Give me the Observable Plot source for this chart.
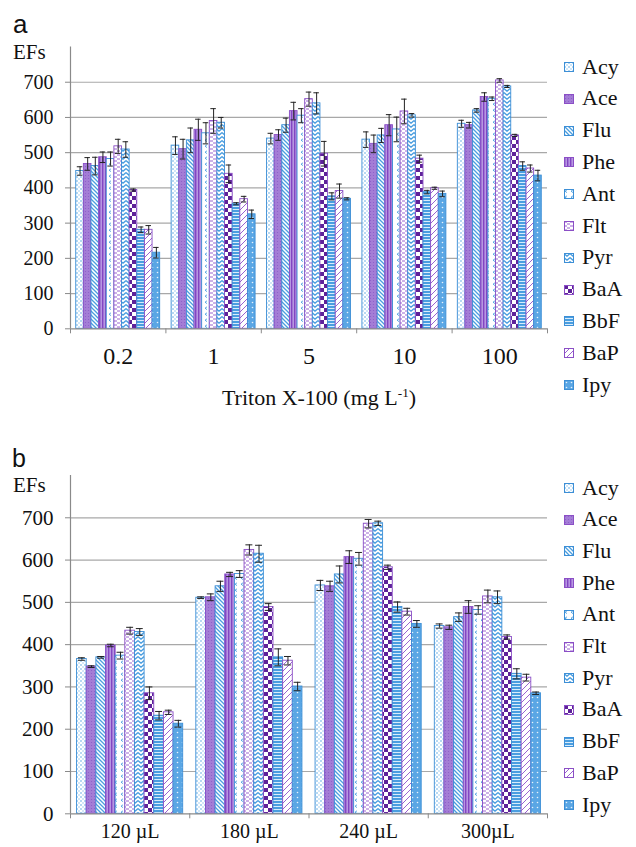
<!DOCTYPE html>
<html><head><meta charset="utf-8">
<script src="https://cdn.jsdelivr.net/npm/d3@7"></script>
<script src="https://cdn.jsdelivr.net/npm/@observablehq/plot@0.6"></script>
<style>
body{margin:0;background:#fff;}
#fig{position:relative;width:636px;height:847px;overflow:hidden;background:#fff;font-family:"Liberation Serif","Times New Roman",serif;color:#111;}
.abs{position:absolute;white-space:nowrap;line-height:1;}
.mk{position:absolute;width:10px;height:10px;}
sup{font-size:0.6em;vertical-align:0.6em;line-height:0;}
</style></head><body>
<svg width="0" height="0" style="position:absolute"><defs>
<pattern id="pAcy" width="4" height="4" patternUnits="userSpaceOnUse"><rect width="4" height="4" fill="#fff"/><circle cx="1" cy="1" r="0.75" fill="#4a9ee0"/><circle cx="3" cy="3" r="0.75" fill="#8cc3ee"/></pattern>
<pattern id="pAce" width="3" height="3" patternUnits="userSpaceOnUse"><rect width="3" height="3" fill="#a47dd6"/><circle cx="1.5" cy="1.5" r="0.6" fill="#8a5cc8"/></pattern>
<pattern id="pFlu" width="4" height="4" patternUnits="userSpaceOnUse"><rect width="4" height="4" fill="#fff"/><path d="M-1,-1L5,5M-1,3L1,5M3,-1L5,1" stroke="#4a9ee0" stroke-width="1.3"/></pattern>
<pattern id="pPhe" width="3" height="3" patternUnits="userSpaceOnUse"><rect width="3" height="3" fill="#b796e2"/><rect x="0" width="1.4" height="3" fill="#8246c2"/></pattern>
<pattern id="pAnt" width="6" height="6" patternUnits="userSpaceOnUse"><rect width="6" height="6" fill="#fff"/><path d="M3,0.8L1,2.2L3,3.6" fill="none" stroke="#4a9ee0" stroke-width="0.9"/></pattern>
<pattern id="pFlt" width="6" height="4" patternUnits="userSpaceOnUse"><rect width="6" height="4" fill="#fff"/><path d="M0,1h3M3,3h3" stroke="#9a62cf" stroke-width="1"/></pattern>
<pattern id="pPyr" width="6" height="4" patternUnits="userSpaceOnUse"><rect width="6" height="4" fill="#fff"/><path d="M0,0.6L3,3.2L6,0.6" fill="none" stroke="#4a9ee0" stroke-width="1.3"/></pattern>
<pattern id="pBaA" width="8" height="8" patternUnits="userSpaceOnUse"><rect width="8" height="8" fill="#fff"/><rect width="4" height="4" fill="#5e2299"/><rect x="4" y="4" width="4" height="4" fill="#5e2299"/></pattern>
<pattern id="pBbF" width="3" height="3" patternUnits="userSpaceOnUse"><rect width="3" height="3" fill="#4a9ee0"/><rect y="2" width="3" height="1" fill="#d8ecfb"/></pattern>
<pattern id="pBaP" width="6" height="6" patternUnits="userSpaceOnUse"><rect width="6" height="6" fill="#fff"/><path d="M-1,7L7,-1M-1,1L1,-1M5,7L7,5" stroke="#9a62cf" stroke-width="1"/></pattern>
<pattern id="pIpy" width="5" height="5" patternUnits="userSpaceOnUse"><rect width="5" height="5" fill="#5aa6e4"/><circle cx="2.5" cy="2.5" r="0.8" fill="#e6f2fc"/></pattern>
</defs></svg>
<div id="fig"></div>
<script>
// ---- data ----
const series = ["Acy","Ace","Flu","Phe","Ant","Flt","Pyr","BaA","BbF","BaP","Ipy"];
const seriesHue = ["blue","purple","blue","purple","blue","purple","blue","purple","blue","purple","blue"];
const yTicks = [0,100,200,300,400,500,600,700];

// panel a: Triton X-100 (mg L-1)
const groupsA = ["0.2","1","5","10","100"];
const a02  = [448,468,462,487,482,518,509,394,281,281,216];
const a1   = [520,510,535,565,555,590,585,440,355,368,325];
const a5   = [540,550,578,618,605,652,640,497,376,391,369];
const a10  = [537,525,549,578,566,617,606,483,388,399,383];
const a100 = [582,578,620,658,653,705,688,549,462,455,435];
const ea02  = [12,18,25,15,20,20,22,3,8,12,15];
const ea1   = [25,28,35,30,30,35,15,25,3,8,12];
const ea5   = [15,15,20,25,20,20,30,35,10,20,3];
const ea10  = [22,25,20,30,35,35,5,10,5,3,8];
const ea100 = [10,8,5,12,5,5,3,3,12,10,15];

// panel b: volume
const groupsB = ["120 µL","180 µL","240 µL","300µL"];
const b120 = [366,348,370,398,374,433,430,285,232,240,213];
const b180 = [511,512,538,566,567,624,615,489,370,362,301];
const b240 = [540,538,566,607,603,686,687,583,489,478,449];
const b300 = [444,441,465,489,482,514,512,418,331,322,285];
const eb120 = [3,2,2,3,8,8,8,15,10,5,8];
const eb180 = [2,8,12,5,8,12,20,8,20,10,10];
const eb240 = [12,12,20,15,15,10,5,5,12,8,8];
const eb300 = [5,5,10,15,10,15,15,5,12,8,3];

const hueStroke = {blue:"#3d8fd6", purple:"#8b4fc6"};

function rowsOf(groups, vals, errs){
  const rows = [];
  groups.forEach((g,gi)=>series.forEach((s,si)=>rows.push({g, gi, s, si, v: vals[gi][si], e: errs[gi][si], hue: seriesHue[si]})));
  return rows;
}

function panel({groups, vals, errs, height, marginTop, marginBottom, pad, tickFont, xFont, xPad}){
  const n = groups.length;
  const bw = (1 - 2*pad)/series.length;
  const rows = rowsOf(groups, vals, errs);
  const x1 = d => d.gi + pad + d.si*bw;
  const x2 = d => d.gi + pad + (d.si+1)*bw;
  const xc = d => d.gi + pad + (d.si+0.5)*bw;
  const cap = bw*0.36;
  return Plot.plot({
    width: 636, height, marginLeft: 70, marginRight: 89, marginTop, marginBottom,
    x: {type: "linear", domain: [0, n]},
    y: {type: "linear", domain: [0, 800]},
    color: {type: "identity"},
    style: {fontFamily: '"Liberation Serif", serif', background: "white", color: "#111", overflow: "visible"},
    marks: [
      Plot.ruleY(yTicks.filter(t => t > 0), {stroke: "#a8a8a8", strokeWidth: 1.2, strokeOpacity: 1}),
      Plot.axisY({ticks: yTicks, tickSize: 5, tickPadding: 12, stroke: "#8a8a8a", fontSize: tickFont, label: null, tickFormat: d => String(d)}),
      Plot.ruleX([0], {y1: 0, y2: 800, stroke: "#8a8a8a", strokeWidth: 1.2}),
      Plot.rect(rows, {x1, x2, y1: 0, y2: "v", fill: d => "url(#p" + d.s + ")", stroke: d => hueStroke[d.hue], strokeWidth: 0.9}),
      Plot.ruleX(rows, {x: xc, y1: d => d.v - d.e, y2: d => d.v + d.e, stroke: "#222", strokeWidth: 1}),
      Plot.ruleY(rows, {y: d => d.v + d.e, x1: d => xc(d) - cap, x2: d => xc(d) + cap, stroke: "#222", strokeWidth: 1}),
      Plot.ruleY(rows, {y: d => d.v - d.e, x1: d => xc(d) - cap, x2: d => xc(d) + cap, stroke: "#222", strokeWidth: 1}),
      Plot.ruleY([0], {stroke: "#8a8a8a", strokeWidth: 1.2}),
      Plot.axisX({ticks: d3.range(n + 1), tickSize: 5, tickFormat: () => "", stroke: "#8a8a8a", label: null}),
      Plot.axisX({ticks: groups.map((g, i) => i + 0.5), tickSize: 0, tickPadding: xPad, tickFormat: t => groups[Math.floor(t)], fontSize: xFont, label: null})
    ]
  });
}

const fig = document.getElementById("fig");
function addSvg(svg, top){ svg.style.position = "absolute"; svg.style.left = "0px"; svg.style.top = top + "px"; fig.appendChild(svg); }
function label(html, x, baseline, size, opts = {}){
  const el = document.createElement("div");
  el.className = "abs";
  el.innerHTML = html;
  const sans = opts.sans;
  el.style.fontFamily = sans ? '"Liberation Sans", Arial, sans-serif' : '"Liberation Serif", "Times New Roman", serif';
  el.style.fontSize = size + "px";
  const base = sans ? 0.8465 : 0.8375;
  el.style.top = (baseline - base*size) + "px";
  el.style.left = x + "px";
  if (opts.center) el.style.transform = "translateX(-50%)";
  fig.appendChild(el);
  return el;
}
function legend(y0, step){
  series.forEach((s, i) => {
    const cy = y0 + i*step;
    const m = document.createElementNS("http://www.w3.org/2000/svg", "svg");
    m.setAttribute("class", "mk"); m.setAttribute("width", 10); m.setAttribute("height", 10);
    m.style.left = "564px"; m.style.top = (cy - 5) + "px";
    m.innerHTML = `<rect x="0.5" y="0.5" width="9" height="9" fill="url(#p${s})" stroke="${hueStroke[seriesHue[i]]}" stroke-width="1"/>`;
    fig.appendChild(m);
    label(s, 582, cy + 7, 22);
  });
}

// panel a
addSvg(panel({groups: groupsA, vals: [a02, a1, a5, a10, a100], errs: [ea02, ea1, ea5, ea10, ea100],
  height: 420, marginTop: 46.5, marginBottom: 91.7, pad: 0.06, tickFont: 20, xFont: 24, xPad: 18}), 0);
label("a", 13, 33, 26, {sans: true});
label("EFs", 13, 60, 21);
label("Triton X-100 (mg L<sup>-1</sup>)", 319, 405, 22, {center: true});
legend(67, 31.8);

// panel b
addSvg(panel({groups: groupsB, vals: [b120, b180, b240, b300], errs: [eb120, eb180, eb240, eb300],
  height: 427, marginTop: 55, marginBottom: 33.7, pad: 0.055, tickFont: 21, xFont: 20, xPad: 10}), 420);
label("b", 12, 467, 25, {sans: true});
label("EFs", 13, 493, 21);
legend(488, 31.7);
</script>
</body></html>
